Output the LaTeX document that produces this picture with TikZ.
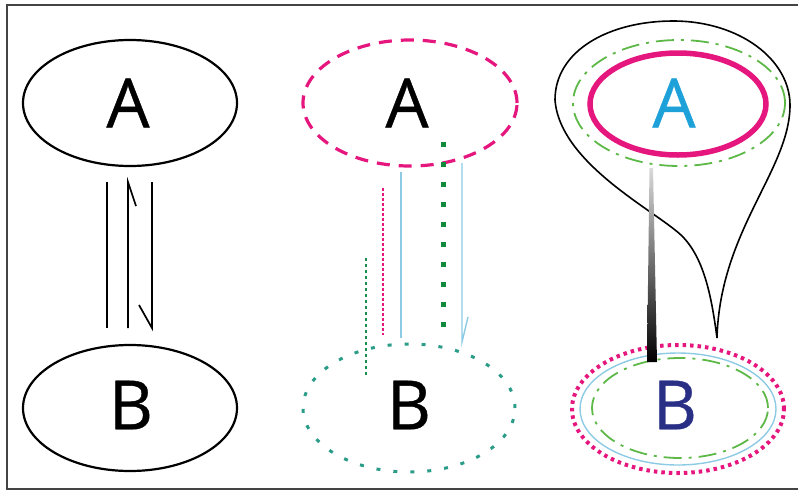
\documentclass[tikz,border=0pt]{standalone}
\usepackage{fontspec}
\setmainfont{Open Sans}
\newfontfamily\letterfont[FakeBold=0.6]{Open Sans}
\usetikzlibrary{shapes.geometric}
\definecolor{mag}{HTML}{E5177E}
\definecolor{cyanA}{HTML}{1DA1D8}
\definecolor{navyB}{HTML}{2A2F86}
\definecolor{lblue}{HTML}{8CCBE3}
\definecolor{dgreen}{HTML}{5DB848}
\definecolor{sqgreen}{HTML}{118A3E}
\definecolor{tealdot}{HTML}{2A9C88}
\definecolor{framec}{HTML}{444444}
\tikzset{
  oval/.style={ellipse, inner sep=0pt, minimum width=214pt, minimum height=126pt},
  letter/.style={font=\letterfont\fontsize{68}{68}\selectfont},
  dashdotg/.style={dgreen, line width=1.8pt, dash pattern=on 18pt off 7pt on 3pt off 7pt},
  thinblue/.style={lblue, line width=1.4pt},
}
\begin{document}
\begin{tikzpicture}[x=1pt,y=-1pt]
\useasboundingbox (0,0) rectangle (798,491);
\draw[framec, line width=1.8pt] (7,5) rectangle (805,489);

% ---------- left column ----------
\node[oval, draw, line width=2.2pt] (A1) at (130,103) {};
\node[oval, draw, line width=2.2pt] (B1) at (130,408) {};
\node[letter] (tA1) at (128,103) {A};
\node[letter] (tB1) at (131,405) {B};
\coordinate (l1t) at (107,182); \coordinate (l1b) at (107,328);
\coordinate (l2t) at (128,182); \coordinate (l2b) at (128,328); \coordinate (l2h) at (136,206);
\coordinate (l3t) at (152,182); \coordinate (l3b) at (152,328); \coordinate (l3h) at (139,305);
\draw[line width=1.7pt] (l1t) -- (l1b);
\draw[line width=1.7pt] (l2b) -- (l2t) -- (l2h);
\draw[line width=1.7pt] (l3t) -- (l3b) -- (l3h);

% ---------- middle column ----------
\node[oval, draw=mag, line width=3.2pt, dash pattern=on 13pt off 9pt] (A2) at (410,103) {};
\node[oval, draw=tealdot, line width=3pt, dash pattern=on 4pt off 13pt, minimum width=212pt, minimum height=128pt] (B2) at (409,408) {};
\node[letter] (tA2) at (407,103) {A};
\node[letter] (tB2) at (409,405) {B};
\coordinate (m1t) at (383,188); \coordinate (m1b) at (383,335);
\coordinate (m2t) at (366,258); \coordinate (m2b) at (366,375);
\coordinate (m3t) at (401,172); \coordinate (m3b) at (401,338);
\coordinate (m4t) at (443,142); \coordinate (m4b) at (443,327);
\coordinate (m5t) at (462,163); \coordinate (m5b) at (462,342); \coordinate (m5h) at (468,317);
\draw[mag, line width=2pt, dash pattern=on 3pt off 2pt] (m1t) -- (m1b);
\draw[sqgreen!80!tealdot, line width=2pt, dash pattern=on 3pt off 3pt] (m2t) -- (m2b);
\draw[thinblue] (m3t) -- (m3b);
\draw[sqgreen, line width=5pt, dash pattern=on 4.5pt off 15.5pt] (m4t) -- (m4b);
\draw[thinblue] (m5t) -- (m5b) -- (m5h);

% ---------- right column ----------
\coordinate (tip) at (717,338);
\coordinate (neck) at (683,237);
\coordinate (bl) at (555,100);
\coordinate (btop) at (673,21);
\coordinate (br) at (790,105);
\draw[line width=1.6pt, line join=round]
  (tip) .. controls (712,300) and (705,260) .. (neck)
        .. controls (660,213) and (560,165) .. (bl)
        .. controls (555,50) and (610,21) .. (btop)
        .. controls (740,21) and (790,60) .. (br)
        .. controls (790,170) and (720,230) .. (tip);
\node[oval, draw, dashdotg, minimum width=212pt, minimum height=126pt] (A3o) at (679,103) {};
\node[ellipse, draw=mag, line width=5.5pt, inner sep=0pt, minimum width=176pt, minimum height=102pt] (A3) at (678,104) {};
\node[letter, text=cyanA] (tA3) at (674,103) {A};
\node[oval, draw=mag, line width=4pt, dash pattern=on 3.5pt off 4pt, minimum width=212pt, minimum height=128pt] (B3o) at (678,409) {};
\node[ellipse, draw, thinblue, inner sep=0pt, minimum width=196pt, minimum height=112pt] (B3m) at (678,409) {};
\node[ellipse, draw, dashdotg, inner sep=0pt, minimum width=176pt, minimum height=100pt] (B3i) at (680,408) {};
\node[letter, text=navyB] (tB3) at (675,405) {B};
\shade[top color=black!15, bottom color=black] (649.5,168) -- (653,168) -- (657,362) -- (647,362) -- cycle;
\end{tikzpicture}
\end{document}
